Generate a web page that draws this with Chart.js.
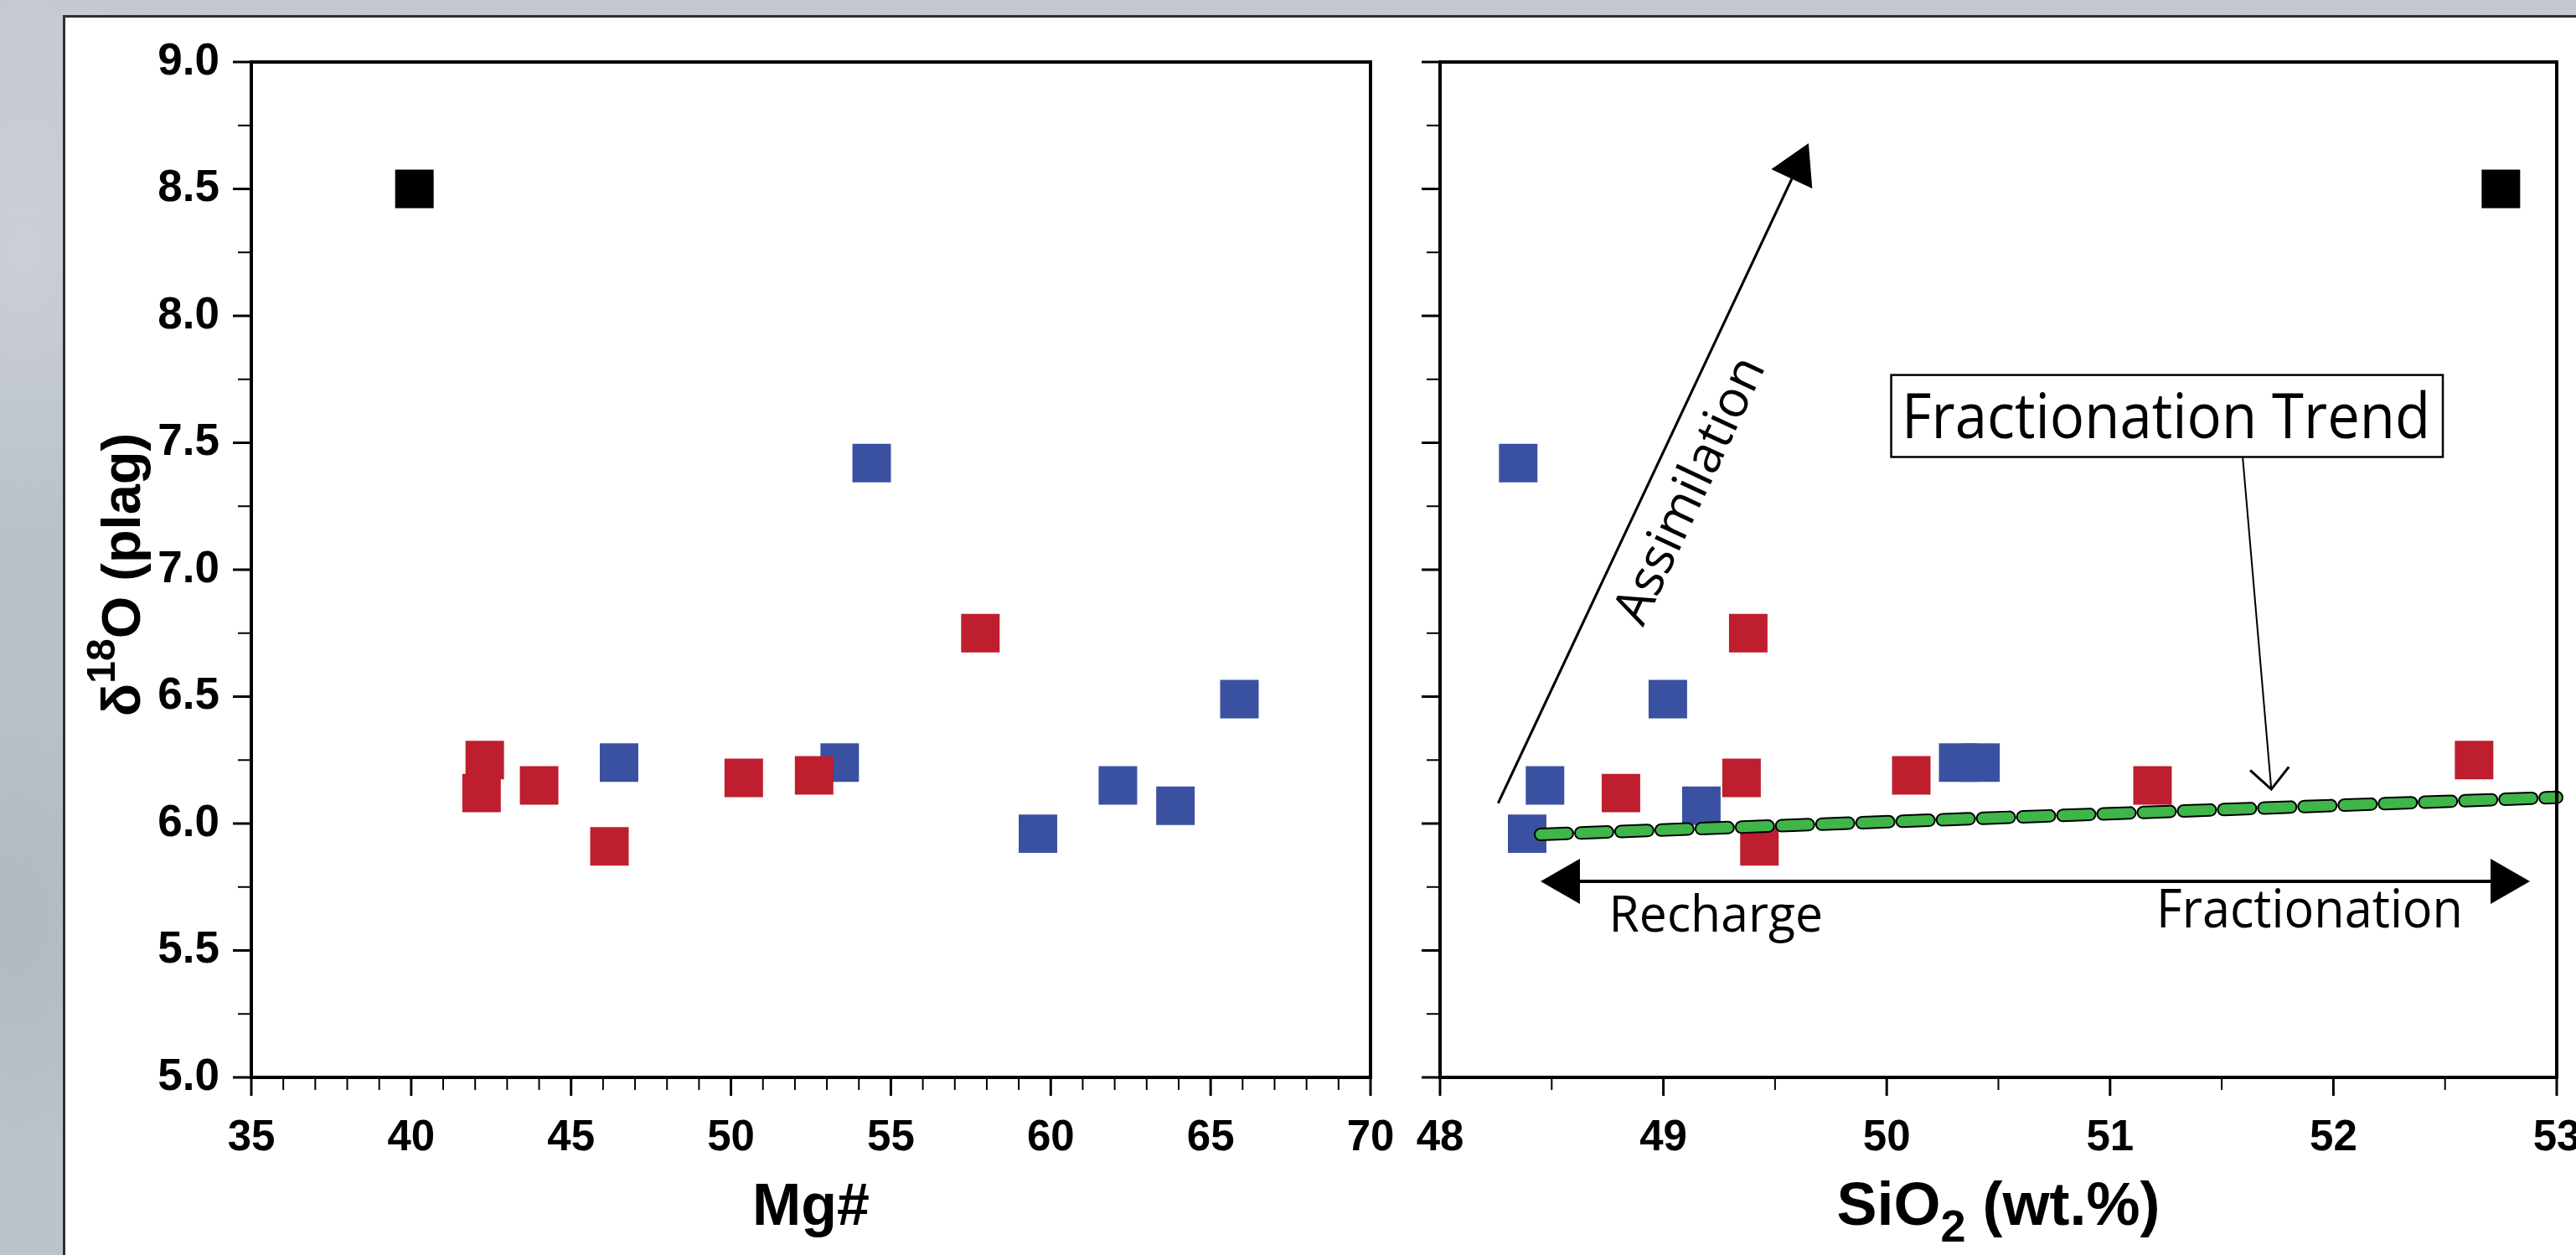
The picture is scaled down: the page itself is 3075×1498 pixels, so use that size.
<!doctype html>
<html lang="en">
<head>
<meta charset="utf-8">
<title>d18O plag vs Mg# and SiO2</title>
<script src="https://cdn.jsdelivr.net/npm/chart.js@4.4.1/dist/chart.umd.min.js"></script>
<style>
  html, body { margin: 0; padding: 0; width: 3075px; height: 1498px; overflow: hidden; }
  body {
    background:
      radial-gradient(ellipse 300px 500px at 30px 300px, rgba(255,255,255,0.18), rgba(255,255,255,0) 70%),
      radial-gradient(ellipse 200px 400px at 20px 1100px, rgba(120,130,140,0.15), rgba(120,130,140,0) 70%),
      linear-gradient(180deg, #c3c9cf 0%, #b9c0c8 45%, #bcc3c9 100%);
  }
  #panel {
    position: absolute; left: 75px; top: 18px; width: 3010px; height: 1490px;
    background: #fff; border-left: 3px solid #2e2e2e; border-top: 3px solid #2e2e2e;
  }
  #c1 { position: absolute; left: 0; top: 0; }
  #c2 { position: absolute; left: 1680px; top: 0; }
</style>
</head>
<body>
<div id="panel"></div>
<canvas id="c1" width="1680" height="1498"></canvas>
<canvas id="c2" width="1480" height="1498"></canvas>

<script>
    // ---- data ----
    // d18O (plag) values, same samples in both panels
    const blueD18O  = [6.24, 6.24, 7.42, 5.96, 6.15, 6.07, 6.49];
    const blueMg    = [46.5, 53.4, 54.4, 59.6, 62.1, 63.9, 65.9];
    const blueSiO2  = [50.32, 50.42, 48.35, 48.39, 48.47, 49.17, 49.02];

    const redD18O   = [6.25, 6.12, 6.15, 5.91, 6.18, 6.19, 6.75];
    const redMg     = [42.3, 42.2, 44.0, 46.2, 50.4, 52.6, 57.8];
    const redSiO2   = [52.63, 48.81, 51.19, 49.43, 49.35, 50.11, 49.38];

    const blackD18O = [8.5];
    const blackMg   = [40.1];
    const blackSiO2 = [52.75];

    // fractionation trend line (SiO2, d18O)
    const trendSiO2 = [48.45, 53.0];
    const trendD18O = [5.957, 6.103];

    // axis ticks
    const yTicks     = [5.0, 5.5, 6.0, 6.5, 7.0, 7.5, 8.0, 8.5, 9.0];
    const mgTicks    = [35, 40, 45, 50, 55, 60, 65, 70];
    const sio2Ticks  = [48, 49, 50, 51, 52, 53];

    // annotation anchors (SiO2, d18O)
    const assimArrow   = [[48.26, 6.08], [49.65, 8.68]];
    const assimLabel   = [49.125, 7.31];
    const mixArrow     = [[48.45, 5.772], [52.88, 5.772]];
    const rechargeText = [[48.756, 5.574], [49.714, 5.574]];
    const fracText     = [[51.207, 5.59], [52.58, 5.59]];
    const trendBox     = [[50.02, 7.767], [52.49, 7.444]];
    const trendText    = [[50.067, 7.518], [52.434, 7.518]];
    const trendPointer = [[51.594, 7.442], [51.722, 6.135]];

    const BLUE = '#3a51a2', RED = '#be1e2d', GREEN = '#3fb54a';
    const AXFONT = "'Liberation Sans', Arial, Helvetica, sans-serif";
    const NOTEFONT = "'Open Sans', 'Noto Sans', sans-serif";

    const pts = (xs, ys) => xs.map((x, i) => ({ x: x, y: ys[i] }));

    // draws text made of pieces (sub/superscripts), centred on x
    function richText(ctx, parts, cx, baseY) {
        let w = 0;
        parts.forEach(p => { ctx.font = 'bold ' + p.size + 'px ' + AXFONT; w += ctx.measureText(p.t).width; });
        let x = cx - w / 2;
        ctx.textAlign = 'left';
        ctx.textBaseline = 'alphabetic';
        parts.forEach(p => {
            ctx.font = 'bold ' + p.size + 'px ' + AXFONT;
            ctx.fillText(p.t, x, baseY + (p.dy || 0));
            x += ctx.measureText(p.t).width;
        });
    }

    const frameTicks = {
        id: 'frameTicks',
        afterDraw(chart, args, o) {
            const ctx = chart.ctx, a = chart.chartArea;
            const xs = chart.scales.x, ys = chart.scales.y;
            ctx.save();
            ctx.strokeStyle = '#000';
            ctx.fillStyle = '#000';
            const isMajor = (list, v) => list.some(m => Math.abs(m - v) < 1e-6);

            let n = Math.round((xs.max - xs.min) / o.xMinor);
            for (let i = 0; i <= n; i++) {
                const v = xs.min + i * o.xMinor;
                const major = isMajor(o.xMajor, v);
                const px = xs.getPixelForValue(v);
                ctx.lineWidth = major ? 3 : 2;
                ctx.beginPath();
                ctx.moveTo(px, a.bottom);
                ctx.lineTo(px, a.bottom + (major ? 22 : 15));
                ctx.stroke();
            }
            n = Math.round((ys.max - ys.min) / o.yMinor);
            for (let i = 0; i <= n; i++) {
                const v = ys.min + i * o.yMinor;
                const major = isMajor(yTicks, v);
                const py = ys.getPixelForValue(v);
                ctx.lineWidth = major ? 3 : 2;
                ctx.beginPath();
                ctx.moveTo(a.left, py);
                ctx.lineTo(a.left - (major ? 22 : 16), py);
                ctx.stroke();
            }
            ctx.lineWidth = 4;
            ctx.strokeRect(a.left, a.top, a.right - a.left, a.bottom - a.top);

            richText(ctx, o.xTitle, (a.left + a.right) / 2, a.bottom + 176);
            if (o.yTitle) {
                ctx.save();
                ctx.translate(a.left - 133, (a.top + a.bottom) / 2 + 6);
                ctx.rotate(-Math.PI / 2);
                richText(ctx, o.yTitle, 0, 0);
                ctx.restore();
            }
            ctx.restore();
        }
    };

    function arrowHead(ctx, tip, from, len, half) {
        const dx = tip[0] - from[0], dy = tip[1] - from[1];
        const d = Math.hypot(dx, dy), ux = dx / d, uy = dy / d;
        const bx = tip[0] - ux * len, by = tip[1] - uy * len;
        ctx.beginPath();
        ctx.moveTo(tip[0], tip[1]);
        ctx.lineTo(bx - uy * half, by + ux * half);
        ctx.lineTo(bx + uy * half, by - ux * half);
        ctx.closePath();
        ctx.fill();
        return [bx, by];
    }

    function fitText(ctx, text, left, right, baseY, size) {
        ctx.font = size + 'px ' + NOTEFONT;
        const w = ctx.measureText(text).width;
        ctx.save();
        ctx.translate(left, baseY);
        ctx.scale((right - left) / w, 1);
        ctx.textAlign = 'left';
        ctx.textBaseline = 'alphabetic';
        ctx.fillText(text, 0, 0);
        ctx.restore();
    }

    const annotate = {
        id: 'annotate',
        afterDatasetsDraw(chart) {
            const ctx = chart.ctx;
            const xs = chart.scales.x, ys = chart.scales.y;
            const P = p => [xs.getPixelForValue(p[0]), ys.getPixelForValue(p[1])];
            ctx.save();
            ctx.strokeStyle = '#000';
            ctx.fillStyle = '#000';

            // assimilation arrow
            let s = P(assimArrow[0]), t = P(assimArrow[1]);
            let b = arrowHead(ctx, t, s, 47, 27);
            ctx.lineWidth = 3;
            ctx.beginPath(); ctx.moveTo(s[0], s[1]); ctx.lineTo(b[0], b[1]); ctx.stroke();
            const ang = Math.atan2(t[1] - s[1], t[0] - s[0]);
            const c = P(assimLabel);
            ctx.save();
            ctx.translate(c[0], c[1]);
            ctx.rotate(ang);
            ctx.font = '61px ' + NOTEFONT;
            ctx.textAlign = 'center';
            ctx.textBaseline = 'middle';
            ctx.fillText('Assimilation', 0, 0);
            ctx.restore();

            // recharge <-> fractionation arrow
            s = P(mixArrow[0]); t = P(mixArrow[1]);
            const b1 = arrowHead(ctx, s, t, 47, 27);
            const b2 = arrowHead(ctx, t, s, 47, 27);
            ctx.lineWidth = 4;
            ctx.beginPath(); ctx.moveTo(b1[0], b1[1]); ctx.lineTo(b2[0], b2[1]); ctx.stroke();
            let l = P(rechargeText[0]), r = P(rechargeText[1]);
            fitText(ctx, 'Recharge', l[0], r[0], l[1], 61);
            l = P(fracText[0]); r = P(fracText[1]);
            fitText(ctx, 'Fractionation', l[0], r[0], l[1], 64);

            // fractionation trend label box + pointer
            const p0 = P(trendBox[0]), p1 = P(trendBox[1]);
            ctx.fillStyle = '#fff';
            ctx.fillRect(p0[0], p0[1], p1[0] - p0[0], p1[1] - p0[1]);
            ctx.fillStyle = '#000';
            ctx.lineWidth = 2.5;
            ctx.strokeRect(p0[0], p0[1], p1[0] - p0[0], p1[1] - p0[1]);
            l = P(trendText[0]); r = P(trendText[1]);
            fitText(ctx, 'Fractionation Trend', l[0], r[0], l[1], 75);

            s = P(trendPointer[0]); t = P(trendPointer[1]);
            ctx.lineWidth = 2;
            ctx.beginPath(); ctx.moveTo(s[0], s[1]); ctx.lineTo(t[0], t[1]); ctx.stroke();
            const a0 = Math.atan2(s[1] - t[1], s[0] - t[0]);
            ctx.lineWidth = 3;
            ctx.beginPath();
            ctx.moveTo(t[0] + 34 * Math.cos(a0 + 0.75), t[1] + 34 * Math.sin(a0 + 0.75));
            ctx.lineTo(t[0], t[1]);
            ctx.lineTo(t[0] + 34 * Math.cos(a0 - 0.75), t[1] + 34 * Math.sin(a0 - 0.75));
            ctx.stroke();
            ctx.restore();
        }
    };

    function squares(xs, ys, color, order) {
        return {
            data: pts(xs, ys), backgroundColor: color, borderWidth: 0,
            pointStyle: 'rect', pointRadius: 32.5, pointHoverRadius: 32.5, order: order
        };
    }

    function baseOptions(cfg) {
        return {
            responsive: false,
            animation: false,
            devicePixelRatio: 1,
            events: [],
            layout: { padding: { left: 0, top: 74, right: cfg.padRight, bottom: 0 } },
            plugins: {
                legend: { display: false },
                tooltip: { enabled: false },
                frameTicks: cfg.decor
            },
            scales: {
                x: {
                    type: 'linear', min: cfg.xMin, max: cfg.xMax,
                    grid: { display: false, drawTicks: false },
                    border: { display: false },
                    afterBuildTicks: s => { s.ticks = cfg.xTicks.map(v => ({ value: v })); },
                    afterFit: s => { s.height = 212; s.paddingLeft = 0; s.paddingRight = 0; },
                    ticks: {
                        autoSkip: false, maxRotation: 0, padding: 42, color: '#000',
                        font: { family: AXFONT, weight: 'bold', size: 51 },
                        callback: v => String(v)
                    }
                },
                y: {
                    type: 'linear', min: 5, max: 9,
                    grid: { display: false, drawTicks: false },
                    border: { display: false },
                    afterBuildTicks: s => { s.ticks = yTicks.map(v => ({ value: v })); },
                    afterFit: s => { s.width = cfg.yWidth; s.paddingTop = 0; s.paddingBottom = 0; },
                    ticks: {
                        display: cfg.yLabels, autoSkip: false, padding: 38, color: '#000',
                        font: { family: AXFONT, weight: 'bold', size: 53 },
                        callback: v => v.toFixed(1)
                    }
                }
            }
        };
    }

    new Chart(document.getElementById('c1'), {
        type: 'scatter',
        data: {
            datasets: [
                squares(blackMg, blackD18O, '#000', 1),
                squares(redMg, redD18O, RED, 2),
                squares(blueMg, blueD18O, BLUE, 3)
            ]
        },
        options: baseOptions({
            padRight: 44, yWidth: 300, yLabels: true, xMin: 35, xMax: 70, xTicks: mgTicks,
            decor: {
                xMinor: 1, xMajor: mgTicks, yMinor: 0.25,
                xTitle: [{ t: 'Mg#', size: 70 }],
                yTitle: [{ t: 'δ', size: 65 }, { t: '18', size: 48, dy: -30 }, { t: 'O (plag)', size: 65 }]
            }
        }),
        plugins: [frameTicks]
    });

    new Chart(document.getElementById('c2'), {
        type: 'scatter',
        data: {
            datasets: [
                {
                    data: pts(trendSiO2, trendD18O), showLine: true, pointRadius: 0,
                    borderColor: GREEN, borderWidth: 12, borderDash: [32, 16],
                    borderCapStyle: 'round', clip: false, order: 0
                },
                {
                    data: pts(trendSiO2, trendD18O), showLine: true, pointRadius: 0,
                    borderColor: '#000', borderWidth: 16, borderDash: [32, 16],
                    borderCapStyle: 'round', clip: false, order: 1
                },
                squares(blackSiO2, blackD18O, '#000', 2),
                squares(redSiO2, redD18O, RED, 3),
                squares(blueSiO2, blueD18O, BLUE, 4)
            ]
        },
        options: baseOptions({
            padRight: 108, yWidth: 39, yLabels: false, xMin: 48, xMax: 53, xTicks: sio2Ticks,
            decor: {
                xMinor: 0.5, xMajor: sio2Ticks, yMinor: 0.25,
                xTitle: [{ t: 'SiO', size: 72 }, { t: '2', size: 54, dy: 20 }, { t: ' (wt.%)', size: 72 }]
            }
        }),
        plugins: [frameTicks, annotate]
    });
</script>
</body>
</html>
